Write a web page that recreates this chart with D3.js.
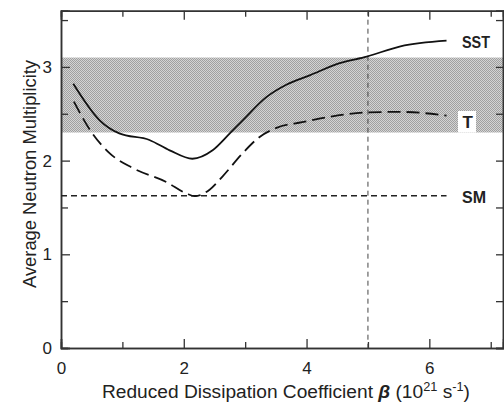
<!DOCTYPE html>
<html><head><meta charset="utf-8">
<script src="https://cdn.jsdelivr.net/npm/d3@7"></script>
<style>body{margin:0;background:#fff}svg{display:block}text{font-family:"Liberation Sans Narrow","Liberation Sans",Arial,sans-serif;fill:#222}</style>
</head><body><svg id="c" width="504" height="409"></svg>
<script>
// Data
const sstBeta = [0.2, 0.63, 0.95, 1.44, 1.77, 2.14, 2.47, 2.75, 2.96, 3.35, 3.67, 4.05, 4.54, 4.98, 5.53, 6.28];
const sstMult = [2.82, 2.43, 2.29, 2.22, 2.11, 2.02, 2.11, 2.29, 2.43, 2.68, 2.81, 2.91, 3.04, 3.11, 3.22, 3.28];
const tBeta = [0.21, 0.47, 0.79, 1.17, 1.72, 2.04, 2.18, 2.42, 2.63, 2.96, 3.23, 3.51, 3.93, 4.49, 4.98, 5.53, 6.28];
const tMult = [2.63, 2.33, 2.08, 1.92, 1.77, 1.65, 1.62, 1.69, 1.83, 2.08, 2.25, 2.35, 2.41, 2.48, 2.515, 2.52, 2.48];
const smLevel = 1.625;
const smRange = [0, 6.28];
const bandRange = [2.3, 3.1];
const markerBeta = 5;
const xMajor = [0, 2, 4, 6];
const xMinor = [1, 3, 5, 7];
const yMajor = [0, 1, 2, 3];
const yMinor = [0.5, 1.5, 2.5, 3.5];
const seriesLabels = ["SST", "T", "SM"];

const svg = d3.select("#c");
const x = d3.scaleLinear().domain([0, 7.2]).range([61, 503]);
const y = d3.scaleLinear().domain([0, 3.6]).range([348, 10.7]);

// pattern for band
const defs = svg.append("defs");
const pat = defs.append("pattern").attr("id","dots").attr("width",2).attr("height",2).attr("patternUnits","userSpaceOnUse");
pat.append("rect").attr("width",2).attr("height",2).attr("fill","#d4d4d4");
pat.append("rect").attr("width",1).attr("height",1).attr("fill","#a0a0a0");
pat.append("rect").attr("x",1).attr("y",1).attr("width",1).attr("height",1).attr("fill","#a0a0a0");

svg.append("rect").attr("x", x(0)).attr("y", y(bandRange[1]))
  .attr("width", x(7.2)-x(0)).attr("height", y(bandRange[0])-y(bandRange[1]))
  .attr("fill","url(#dots)");

// white box behind T label
svg.append("rect").attr("x", 458).attr("y", 111).attr("width", 18).attr("height", y(bandRange[0])-111).attr("fill","#fff");

// axes
const axCol = "#333";
svg.append("g").attr("transform",`translate(0,${y(0)})`)
  .call(d3.axisBottom(x).tickValues(xMajor).tickSize(-9).tickFormat(d3.format("d")).tickPadding(14));
svg.append("g").attr("transform",`translate(0,${y(0)})`)
  .call(d3.axisBottom(x).tickValues(xMinor).tickSize(-6).tickFormat(""));
svg.append("g").attr("transform",`translate(0,${y(3.6)})`)
  .call(d3.axisTop(x).tickValues(xMajor).tickSize(-9).tickFormat(""));
svg.append("g").attr("transform",`translate(0,${y(3.6)})`)
  .call(d3.axisTop(x).tickValues(xMinor).tickSize(-6).tickFormat(""));
svg.append("g").attr("transform",`translate(${x(0)},0)`)
  .call(d3.axisLeft(y).tickValues(yMajor).tickSize(-9).tickFormat(d3.format("d")).tickPadding(9));
svg.append("g").attr("transform",`translate(${x(0)},0)`)
  .call(d3.axisLeft(y).tickValues(yMinor).tickSize(-7).tickFormat(""));
svg.append("g").attr("transform",`translate(${x(7.2)},0)`)
  .call(d3.axisRight(y).tickValues(yMajor).tickSize(-7).tickFormat(""));
svg.append("g").attr("transform",`translate(${x(7.2)},0)`)
  .call(d3.axisRight(y).tickValues(yMinor).tickSize(-7).tickFormat(""));
svg.selectAll(".domain").attr("stroke",axCol).attr("stroke-width",1.5);
svg.selectAll(".tick line").attr("stroke",axCol).attr("stroke-width",1.3);
svg.selectAll(".tick text").attr("font-size",17).attr("fill","#222")
  .style("font-family",'"Liberation Sans Narrow","Liberation Sans",Arial,sans-serif');

// SM line
svg.append("line").attr("x1", x(smRange[0])).attr("x2", x(smRange[1]))
  .attr("y1", y(smLevel)).attr("y2", y(smLevel))
  .attr("stroke","#222").attr("stroke-width",1.5).attr("stroke-dasharray","6,4");
// vertical marker
svg.append("line").attr("x1", x(markerBeta)).attr("x2", x(markerBeta))
  .attr("y1", y(3.6)).attr("y2", y(0))
  .attr("stroke","#444").attr("stroke-width",1).attr("stroke-dasharray","5,4");

const line = d3.line().x(d=>x(d[0])).y(d=>y(d[1])).curve(d3.curveMonotoneX);
svg.append("path").datum(sstBeta.map((b,i)=>[b,sstMult[i]])).attr("d",line)
  .attr("fill","none").attr("stroke","#111").attr("stroke-width",1.8);
svg.append("path").datum(tBeta.map((b,i)=>[b,tMult[i]])).attr("d",line)
  .attr("fill","none").attr("stroke","#111").attr("stroke-width",1.8).attr("stroke-dasharray","13,6");

// series labels
const lab = (t, xx, yy) => svg.append("text").attr("x",xx).attr("y",yy).attr("font-size",17)
  .attr("font-weight","bold").text(t);
lab(seriesLabels[0], 462, 48).attr("textLength",28).attr("lengthAdjust","spacingAndGlyphs");
lab(seriesLabels[1], 462.5, 128);
lab(seriesLabels[2], 462, 203).attr("textLength",24).attr("lengthAdjust","spacingAndGlyphs");

// axis titles
const xt = svg.append("text").attr("x",102).attr("y",398).attr("font-size",18)
  .attr("textLength",368).attr("lengthAdjust","spacingAndGlyphs");
xt.append("tspan").text("Reduced Dissipation Coefficient ");
xt.append("tspan").attr("font-weight","bold").attr("font-style","italic").text("β");
xt.append("tspan").text(" (10");
xt.append("tspan").attr("font-size",12).attr("dy",-7).text("21");
xt.append("tspan").attr("dy",7).text(" s");
xt.append("tspan").attr("font-size",12).attr("dy",-7).text("-1");
xt.append("tspan").attr("dy",7).text(")");

svg.append("text").attr("transform","translate(36,174) rotate(-90)").attr("text-anchor","middle")
  .attr("font-size",18).attr("textLength",228).attr("lengthAdjust","spacingAndGlyphs")
  .text("Average Neutron Multiplicity");
</script></body></html>
